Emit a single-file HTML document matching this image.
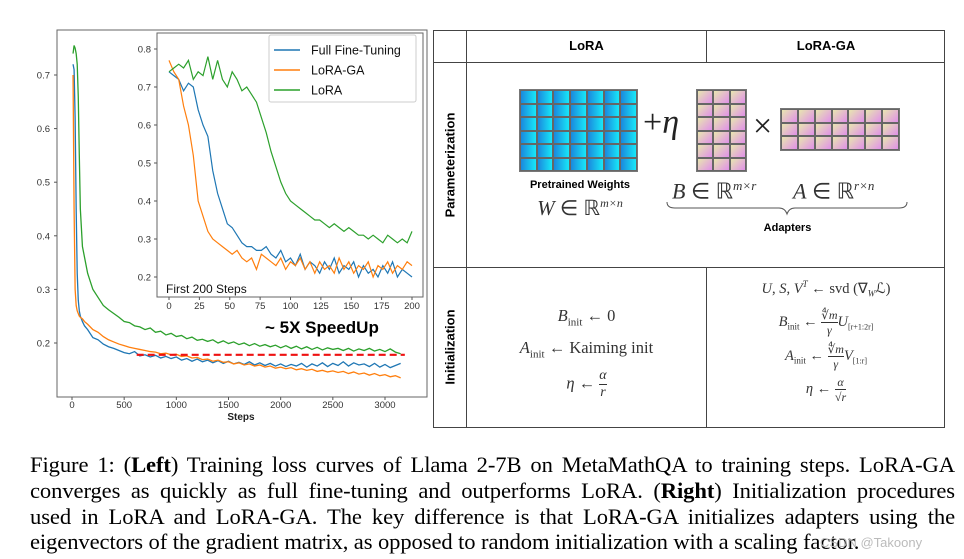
<!DOCTYPE html>
<html><head><meta charset="utf-8">
<style>
body{margin:0;width:964px;height:559px;background:#fff;overflow:hidden;position:relative;font-family:"Liberation Sans",sans-serif}
.abs{position:absolute}
.m{font-family:"Liberation Serif",serif;color:#333}
.i{font-style:italic}
.cap{position:absolute;left:30px;width:925px;font-family:"Liberation Serif",serif;font-size:22.6px;letter-spacing:-0.1px;color:#000;white-space:nowrap;text-align:justify;text-align-last:justify}
.grid{position:absolute;display:grid;border:1px solid #777;box-sizing:border-box}
.grid div{border:1px solid #666}
</style></head><body>
<svg id="chart" class="abs" style="left:0;top:0" width="432" height="430"></svg>

<div>
<div class="abs" style="left:433px;top:30px;width:512px;height:398px;border:1.5px solid #444;box-sizing:border-box"></div>
<div class="abs" style="left:466px;top:30px;width:1px;height:398px;background:#444"></div>
<div class="abs" style="left:706px;top:30px;width:1px;height:32px;background:#444"></div>
<div class="abs" style="left:706px;top:267px;width:1px;height:161px;background:#444"></div>
<div class="abs" style="left:433px;top:62px;width:512px;height:1px;background:#444"></div>
<div class="abs" style="left:433px;top:267px;width:512px;height:1px;background:#444"></div>
<div class="abs" style="left:467px;top:38px;width:239px;text-align:center;font-weight:bold;font-size:13px">LoRA</div>
<div class="abs" style="left:707px;top:38px;width:238px;text-align:center;font-weight:bold;font-size:13px">LoRA-GA</div>
<div class="abs" style="left:450px;top:165px;transform:translate(-50%,-50%) rotate(-90deg);font-weight:bold;font-size:13px;white-space:nowrap">Parameterization</div>
<div class="abs" style="left:450px;top:347px;transform:translate(-50%,-50%) rotate(-90deg);font-weight:bold;font-size:13px;white-space:nowrap">Initialization</div>

<div id="wmat" class="grid" style="left:519px;top:89px;width:119px;height:83px;grid-template-columns:repeat(7,1fr);grid-template-rows:repeat(6,1fr)"></div>
<div class="abs m" style="left:643px;top:104px;font-size:34px;color:#222">+<span class="i">η</span></div>
<div id="bmat" class="grid" style="left:696px;top:89px;width:51px;height:83px;grid-template-columns:repeat(3,1fr);grid-template-rows:repeat(6,1fr)"></div>
<div class="abs m" style="left:753px;top:108px;font-size:34px;color:#222">×</div>
<div id="amat" class="grid" style="left:780px;top:108px;width:120px;height:43px;grid-template-columns:repeat(7,1fr);grid-template-rows:repeat(3,1fr)"></div>

<div class="abs" style="left:519px;top:179px;width:122px;text-align:center;font-weight:bold;font-size:11px">Pretrained Weights</div>
<div class="abs m" style="left:519px;top:196px;width:122px;text-align:center;font-size:21px"><span class="i">W</span> ∈ ℝ<sup class="i" style="font-size:12px">m×n</sup></div>
<div class="abs m" style="left:672px;top:178px;font-size:22px"><span class="i">B</span> ∈ ℝ<sup class="i" style="font-size:13px">m×r</sup></div>
<div class="abs m" style="left:793px;top:178px;font-size:22px"><span class="i">A</span> ∈ ℝ<sup class="i" style="font-size:13px">r×n</sup></div>
<svg class="abs" style="left:665px;top:200px" width="245" height="16"><path d="M2,2 Q2,8 10,8 L114,8 Q120,8 122,14 Q124,8 130,8 L234,8 Q242,8 242,2" fill="none" stroke="#555" stroke-width="1"/></svg>
<div class="abs" style="left:740px;top:222px;width:95px;text-align:center;font-weight:bold;font-size:11px">Adapters</div>

<div class="abs m" style="left:467px;top:303px;width:239px;text-align:center;font-size:16.5px;line-height:25px">
<div><span class="i">B</span><sub style="font-size:11px">init</sub> ← 0</div>
<div><span class="i">A</span><sub style="font-size:11px">init</sub> ← Kaiming init</div>
<div><span class="i">η</span> ← <span style="display:inline-block;vertical-align:middle;font-size:14px;line-height:16px"><span class="i" style="display:block;border-bottom:1px solid #333">α</span><span class="i" style="display:block">r</span></span></div>
</div>
<div class="abs m" style="left:707px;top:276px;width:238px;text-align:center;font-size:14.5px;line-height:17px">
<div><span class="i">U</span>, <span class="i">S</span>, <span class="i">V</span><sup style="font-size:9px" class="i">T</sup> ← svd (∇<sub class="i" style="font-size:9px">W</sub>ℒ)</div>
<div style="margin-top:5px"><span class="i">B</span><sub style="font-size:9px">init</sub> ← <span style="display:inline-block;vertical-align:middle;font-size:12px;line-height:14px"><span style="display:block;border-bottom:1px solid #333">∜<span class="i">m</span></span><span class="i" style="display:block">γ</span></span><span class="i">U</span><sub style="font-size:8px">[r+1:2r]</sub></div>
<div style="margin-top:5px"><span class="i">A</span><sub style="font-size:9px">init</sub> ← <span style="display:inline-block;vertical-align:middle;font-size:12px;line-height:14px"><span style="display:block;border-bottom:1px solid #333">∜<span class="i">m</span></span><span class="i" style="display:block">γ</span></span><span class="i">V</span><sub style="font-size:8px">[1:r]</sub></div>
<div style="margin-top:4px"><span class="i">η</span> ← <span style="display:inline-block;vertical-align:middle;font-size:12px;line-height:14px"><span class="i" style="display:block;border-bottom:1px solid #333">α</span><span style="display:block">√<span class="i">r</span></span></span></div>
</div>
</div>

<div class="cap" style="top:452px">Figure 1: (<b>Left</b>) Training loss curves of Llama 2-7B on MetaMathQA to training steps. LoRA-GA</div>
<div class="cap" style="top:478px">converges as quickly as full fine-tuning and outperforms LoRA. (<b>Right</b>) Initialization procedures</div>
<div class="cap" style="top:504px">used in LoRA and LoRA-GA. The key difference is that LoRA-GA initializes adapters using the</div>
<div class="cap" style="top:529px;width:865px;text-align:left;text-align-last:left">eigenvectors of the gradient matrix, as opposed to random initialization with a scaling factor.</div>
<div class="abs" style="left:820px;top:535px;font-size:13px;color:#bbb">CSDN @Takoony</div>

<script>
const mainSteps=[10,20,30,40,50,60,70,80,100,120,150,200,250,300,350,400,450,500,550,600,650,700,750,800,850,900,950,1000,1050,1100,1150,1200,1250,1300,1350,1400,1450,1500,1550,1600,1650,1700,1750,1800,1850,1900,1950,2000,2050,2100,2150,2200,2250,2300,2350,2400,2450,2500,2550,2600,2650,2700,2750,2800,2850,2900,2950,3000,3050,3100,3150];
const mainFull=[0.72,0.71,0.62,0.45,0.33,0.28,0.26,0.25,0.24,0.232,0.225,0.21,0.206,0.198,0.193,0.19,0.186,0.182,0.18,0.184,0.176,0.178,0.174,0.177,0.172,0.175,0.171,0.174,0.168,0.171,0.166,0.17,0.165,0.168,0.163,0.167,0.162,0.166,0.161,0.164,0.16,0.165,0.159,0.163,0.158,0.162,0.157,0.161,0.156,0.16,0.157,0.162,0.155,0.161,0.157,0.163,0.156,0.162,0.158,0.165,0.157,0.163,0.159,0.161,0.156,0.162,0.155,0.16,0.154,0.158,0.162];
const mainLoraGA=[0.70,0.45,0.30,0.27,0.26,0.255,0.25,0.248,0.245,0.24,0.235,0.225,0.22,0.212,0.206,0.202,0.198,0.195,0.192,0.19,0.188,0.186,0.184,0.183,0.18,0.181,0.178,0.179,0.175,0.176,0.172,0.173,0.169,0.17,0.166,0.168,0.164,0.165,0.161,0.163,0.159,0.161,0.157,0.159,0.155,0.157,0.153,0.155,0.152,0.154,0.15,0.152,0.149,0.151,0.147,0.149,0.146,0.148,0.145,0.147,0.143,0.146,0.142,0.144,0.14,0.143,0.139,0.141,0.137,0.139,0.135];
const mainLora=[0.74,0.755,0.75,0.74,0.72,0.66,0.55,0.45,0.38,0.36,0.33,0.30,0.285,0.27,0.262,0.255,0.248,0.24,0.238,0.232,0.23,0.225,0.228,0.22,0.222,0.215,0.218,0.212,0.214,0.208,0.211,0.205,0.207,0.203,0.206,0.2,0.204,0.199,0.202,0.197,0.2,0.195,0.199,0.194,0.197,0.193,0.196,0.191,0.195,0.19,0.194,0.189,0.193,0.188,0.192,0.187,0.191,0.188,0.19,0.186,0.19,0.185,0.189,0.186,0.19,0.185,0.188,0.184,0.189,0.183,0.18];
const insetSteps=[0,4,8,12,16,20,24,28,32,36,40,44,48,52,56,60,64,68,72,76,80,84,88,92,96,100,104,108,112,116,120,124,128,132,136,140,144,148,152,156,160,164,168,172,176,180,184,188,192,196,200];
const insetFull=[0.74,0.73,0.72,0.69,0.71,0.70,0.64,0.60,0.57,0.48,0.42,0.38,0.34,0.33,0.31,0.29,0.28,0.28,0.27,0.27,0.28,0.26,0.25,0.27,0.24,0.25,0.23,0.26,0.22,0.24,0.23,0.21,0.24,0.22,0.25,0.21,0.23,0.22,0.24,0.2,0.23,0.21,0.22,0.2,0.23,0.21,0.24,0.2,0.22,0.21,0.2];
const insetLoraGA=[0.77,0.74,0.72,0.65,0.60,0.52,0.40,0.36,0.32,0.30,0.29,0.28,0.27,0.26,0.27,0.25,0.24,0.25,0.22,0.26,0.25,0.24,0.23,0.25,0.22,0.24,0.23,0.25,0.22,0.24,0.21,0.24,0.22,0.23,0.21,0.25,0.22,0.24,0.21,0.23,0.22,0.24,0.2,0.23,0.22,0.24,0.21,0.23,0.22,0.24,0.23];
const insetLora=[0.74,0.75,0.76,0.75,0.77,0.72,0.74,0.73,0.78,0.72,0.77,0.72,0.70,0.74,0.72,0.69,0.70,0.68,0.66,0.62,0.58,0.53,0.49,0.45,0.42,0.40,0.39,0.38,0.37,0.36,0.35,0.35,0.34,0.33,0.34,0.33,0.32,0.33,0.32,0.31,0.31,0.30,0.31,0.30,0.29,0.31,0.30,0.29,0.30,0.29,0.32];
const mainXTicks=[0,500,1000,1500,2000,2500,3000];
const mainYTicks=[0.2,0.3,0.4,0.5,0.6,0.7];
const insetXTicks=[0,25,50,75,100,125,150,175,200];
const insetYTicks=[0.2,0.3,0.4,0.5,0.6,0.7,0.8];
const targetLoss=0.178;
const seriesNames=["Full Fine-Tuning","LoRA-GA","LoRA"];
const colors=["#1f77b4","#ff7f0e","#2ca02c"];

const NS="http://www.w3.org/2000/svg";
const svg=document.getElementById('chart');
function mk(tag,attrs,parent){const e=document.createElementNS(NS,tag);for(const k in attrs)e.setAttribute(k,attrs[k]);(parent||svg).appendChild(e);return e;}
function txt(s,attrs){const t=mk('text',attrs);t.textContent=s;return t;}

const mx=v=>72+(v/3000)*313, my=v=>343-(v-0.2)*536;
let r=mk('rect',{x:57,y:30,width:370,height:367,fill:'none',stroke:'#666','stroke-width':1});


mainYTicks.forEach(v=>{mk('line',{x1:54,x2:57,y1:my(v),y2:my(v),stroke:'#555'});
 const t=txt(v.toFixed(1),{x:50,y:my(v)+3.5,'text-anchor':'end','font-size':9.5,fill:'#333'});
 
 });
mainXTicks.forEach(v=>{mk('line',{x1:mx(v),x2:mx(v),y1:397,y2:400,stroke:'#555'});
 const t=txt(String(v),{x:mx(v),y:408,'text-anchor':'middle','font-size':9.5,fill:'#333'});
 
 });
let xt=txt('Steps',{x:241,y:420,'text-anchor':'middle','font-size':10,'font-weight':'bold',fill:'#222'});


[mainFull,mainLoraGA,mainLora].forEach((arr,si)=>{
 const p=mk('polyline',{points:arr.map((v,i)=>mx(mainSteps[i])+','+my(v)).join(' '),fill:'none',stroke:colors[si],'stroke-width':1.3});
 
 });
let dl=mk('line',{x1:mx(620),x2:mx(3190),y1:my(targetLoss),y2:my(targetLoss),stroke:'#ee1111','stroke-width':2.2,'stroke-dasharray':'7,4'});


let sp=txt('~ 5X SpeedUp',{x:265,y:333,'font-size':17,'font-weight':'bold',fill:'#000'});



const ix=v=>169+(v/200)*243, iy=v=>277-(v-0.2)*380;
let ir=mk('rect',{x:157,y:33,width:266,height:264,fill:'#fff',stroke:'#666','stroke-width':1});


insetYTicks.forEach(v=>{mk('line',{x1:154,x2:157,y1:iy(v),y2:iy(v),stroke:'#555'});
 const t=txt(v.toFixed(1),{x:151,y:iy(v)+3.5,'text-anchor':'end','font-size':9.5,fill:'#333'});
 
 });
insetXTicks.forEach(v=>{mk('line',{x1:ix(v),x2:ix(v),y1:297,y2:300,stroke:'#555'});
 const t=txt(String(v),{x:ix(v),y:309,'text-anchor':'middle','font-size':9.5,fill:'#333'});
 
 });
[insetFull,insetLoraGA,insetLora].forEach((arr,si)=>{
 const p=mk('polyline',{points:arr.map((v,i)=>ix(insetSteps[i])+','+iy(v)).join(' '),fill:'none',stroke:colors[si],'stroke-width':1.2});
 
 });
let ft=txt('First 200 Steps',{x:166,y:293,'font-size':12,fill:'#111'});


let lg=mk('rect',{x:269,y:35,width:147,height:67,fill:'#fff',stroke:'#ccc',rx:2});


seriesNames.forEach((n,i)=>{const y=50+i*20;
 mk('line',{x1:274,x2:300,y1:y,y2:y,stroke:colors[i],'stroke-width':1.5});
 const t=txt(n,{x:311,y:y+4.5,'font-size':12.5,fill:'#111'});
 
 });

function fill(id,n,bg){const g=document.getElementById(id);for(let i=0;i<n;i++){const d=document.createElement('div');d.style.background=bg;g.appendChild(d);}}
fill('wmat',42,'linear-gradient(90deg,#1a88dd,#18e8f8)');
fill('bmat',18,'linear-gradient(135deg,#e8e6b0,#e090e8)');
fill('amat',21,'linear-gradient(135deg,#e8e6b0,#e090e8)');
</script>
</body></html>
